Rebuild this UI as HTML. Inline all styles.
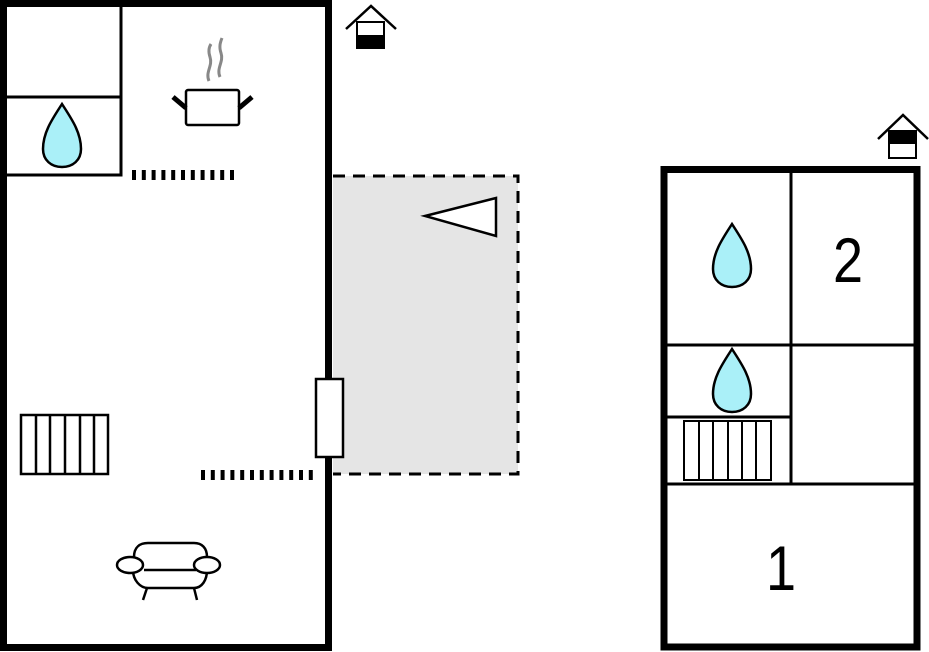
<!DOCTYPE html>
<html><head><meta charset="utf-8"><style>html,body{margin:0;padding:0;background:#fff}svg{display:block}</style></head>
<body>
<svg width="929" height="652" viewBox="0 0 929 652" xmlns="http://www.w3.org/2000/svg" font-family="Liberation Sans, sans-serif">
<defs>
<path id="drop" d="M0,-33 C9,-19 19,-5 19,12 C19,23 11,30 0,30 C-11,30 -19,23 -19,12 C-19,-5 -9,-19 0,-33 Z" fill="#aaf0f8" stroke="#000" stroke-width="2.5"/>
</defs>
<!-- terrace -->
<rect x="333" y="176" width="185" height="298" fill="#e5e5e5"/>
<path d="M333,176 H518 V474 H333" fill="none" stroke="#000" stroke-width="3" stroke-dasharray="12,8"/>
<polygon points="425,216 496,198 496,236" fill="#fff" stroke="#000" stroke-width="2.5"/>
<!-- left building -->
<rect x="3.5" y="3.5" width="325" height="644" fill="none" stroke="#000" stroke-width="7"/>
<path d="M121,3 V175 H4 M4,97 H121" fill="none" stroke="#000" stroke-width="3"/>
<use href="#drop" x="62" y="137"/>
<!-- pot -->
<path d="M209,81 C205,72 213,66 210,57 C208,51 209,47 211,44 M220,77 C216,68 224,62 221,53 C219,47 220,43 222,38" fill="none" stroke="#888" stroke-width="3"/>
<rect x="186" y="90" width="53" height="35" rx="2" fill="#fff" stroke="#000" stroke-width="2.5"/>
<path d="M173,97 L186,108 M252,97 L239,108" stroke="#000" stroke-width="5"/>
<!-- dashed walls -->
<path d="M132,175 H235" stroke="#000" stroke-width="10" stroke-dasharray="4,5.8"/>
<path d="M201,475 H314" stroke="#000" stroke-width="10" stroke-dasharray="4,5.8"/>
<!-- stairs left -->
<rect x="21" y="415" width="87" height="59" fill="#fff" stroke="#000" stroke-width="2.5"/>
<path d="M36,415 V474 M50,415 V474 M65,415 V474 M80,415 V474 M94,415 V474" stroke="#000" stroke-width="2.5"/>
<!-- door -->
<rect x="316" y="379" width="27" height="78" fill="#fff" stroke="#000" stroke-width="2.5"/>
<!-- armchair -->
<path d="M134,557 C134,547 140,543 148,543 H194 C202,543 207,548 207,557 M133,570 C133,580 140,588 148,588 H194 C202,588 207,580 207,570 M144,570 H196 M147,588 L143,600 M194,588 L197,600" fill="none" stroke="#000" stroke-width="2.5"/>
<ellipse cx="130" cy="565" rx="13" ry="8" fill="#fff" stroke="#000" stroke-width="2.5"/>
<ellipse cx="207" cy="565" rx="13" ry="8" fill="#fff" stroke="#000" stroke-width="2.5"/>
<!-- house icon left -->
<path d="M346,29 L371,6 L396,29" fill="none" stroke="#000" stroke-width="2.5"/>
<rect x="357" y="22" width="27" height="26" fill="#fff" stroke="#000" stroke-width="2"/>
<rect x="357" y="35" width="27" height="13" fill="#000"/>
<!-- right building -->
<rect x="664" y="169.5" width="253" height="477.5" fill="none" stroke="#000" stroke-width="7"/>
<path d="M791,170 V484 M665,345 H917 M665,484 H917 M665,417 H791" fill="none" stroke="#000" stroke-width="3"/>
<use href="#drop" x="732" y="257"/>
<use href="#drop" x="732" y="382"/>
<rect x="684" y="421" width="87" height="59" fill="#fff" stroke="#000" stroke-width="2"/>
<path d="M699,421 V480 M713,421 V480 M728,421 V480 M742,421 V480 M756,421 V480" stroke="#000" stroke-width="2"/>
<text transform="translate(848,282) scale(0.9,1.05)" font-size="60" text-anchor="middle">2</text>
<text transform="translate(781,590) scale(0.9,1.05)" font-size="60" text-anchor="middle">1</text>
<!-- house icon right -->
<path d="M878,139 L903,115 L928,139" fill="none" stroke="#000" stroke-width="2.5"/>
<rect x="889" y="131" width="27" height="27" fill="#fff" stroke="#000" stroke-width="2"/>
<rect x="889" y="131" width="27" height="13" fill="#000"/>
</svg>
</body></html>
